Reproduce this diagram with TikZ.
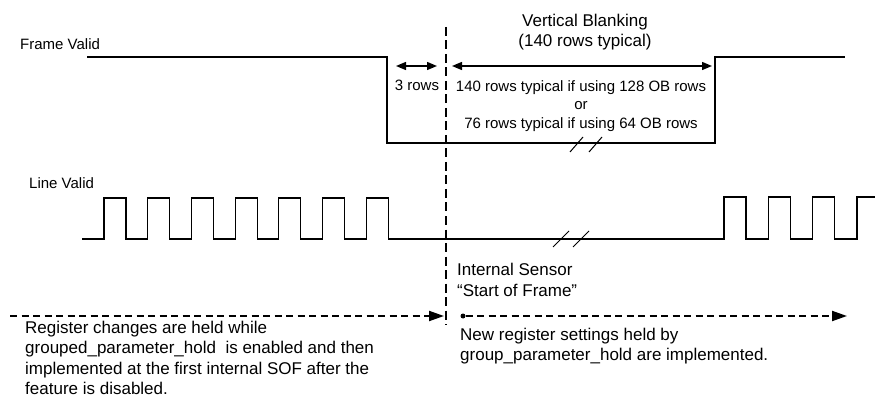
\documentclass[tikz,border=0pt]{standalone}
\usepackage{fontspec}
\setmainfont{Liberation Sans}
\usetikzlibrary{arrows.meta}

\begin{document}
\begin{tikzpicture}[x=1pt, y=-1pt,
  signal/.style={line width=1.2pt, line join=miter},
  sofline/.style={line width=2pt, dash pattern=on 9pt off 4.5pt},
  holdline/.style={line width=2pt, dash pattern=on 7pt off 4.5pt},
  lbl/.style={inner sep=0pt, font=\fontsize{15}{18.3}\selectfont},
  biglbl/.style={inner sep=0pt, font=\fontsize{17}{20.5}\selectfont}]
\def\al{10pt}
\def\aw{8pt}
\useasboundingbox (0,0) rectangle (875,398);
%labels (base = last line)
\node [lbl, anchor=base west, name=fv] at (20,50) {Frame Valid};
\node [lbl, anchor=base west, name=lv] at (29,189) {Line Valid};
\node [lbl, anchor=base, name=three] at (417,91) {3 rows};
\node [biglbl, anchor=base, align=center, name=vb] at (585,46.7) {Vertical Blanking\\(140 rows typical)};
\node [lbl, anchor=base, align=center, name=typ] at (581,128.3) {140 rows typical if using 128 OB rows\\or\\76 rows typical if using 64 OB rows};
\node [biglbl, anchor=base west, align=left, name=isof] at (457,296) {Internal Sensor\\``Start of Frame''};
\node [biglbl, anchor=base west, align=left, name=held] at (25,394.5) {Register changes are held while\\grouped\_parameter\_hold\ \ is enabled and then\\implemented at the first internal SOF after the\\feature is disabled.};
\node [biglbl, anchor=base west, align=left, name=impl] at (460,360.7) {New register settings held by\\group\_parameter\_hold are implemented.};
%frame valid
\draw [signal] (87,57) -| (387,143) -| (715,57) -- (845,57);
\draw [line width=1pt] (570,152) -- (583,137) (589,152) -- (602,137);
%line valid
\draw [signal] (82,239) foreach \i in {0,...,6} {
  -- (104+43.7*\i,239) -- (104+43.7*\i,198) -- (126+43.7*\i,198) -- (126+43.7*\i,239)}
  -- (724,239) foreach \i in {0,1,2} {
  -- (724+44.4*\i,239) -- (724+44.4*\i,197) -- (746+44.4*\i,197) -- (746+44.4*\i,239)}
  -- (857,239) -- (857,197) -- (875,197);
\draw [line width=1pt] (553,247) -- (569,231) (573,247) -- (589,231);
%start of frame
\coordinate (sofa) at (446,27);
\coordinate (sofb) at (446,325);
\draw [sofline] (sofa) -- (sofb);
\coordinate (r3a) at (396,66);
\coordinate (r3b) at (437,66);
\coordinate (vba) at (452,66);
\coordinate (vbb) at (712,66);
\draw [line width=1.4pt, {Triangle[length=\al, width=\aw]}-{Triangle[length=\al, width=\aw]}] (r3a) -- (r3b);
\draw [line width=1.4pt, {Triangle[length=\al, width=\aw]}-{Triangle[length=\al, width=\aw]}] (vba) -- (vbb);
%hold arrows
\coordinate (hl0) at (10,316);
\coordinate (hl1) at (444,316);
\node [circle, fill=black, inner sep=0pt, minimum size=5pt, name=sof] at (463,316) {};
\coordinate (hr1) at (847,316);
\draw [holdline, -{Triangle[length=15pt, width=10pt]}] (hl0) -- (hl1);
\draw [holdline, -{Triangle[length=15pt, width=10pt]}] (sof) -- (hr1);
\end{tikzpicture}
\end{document}
